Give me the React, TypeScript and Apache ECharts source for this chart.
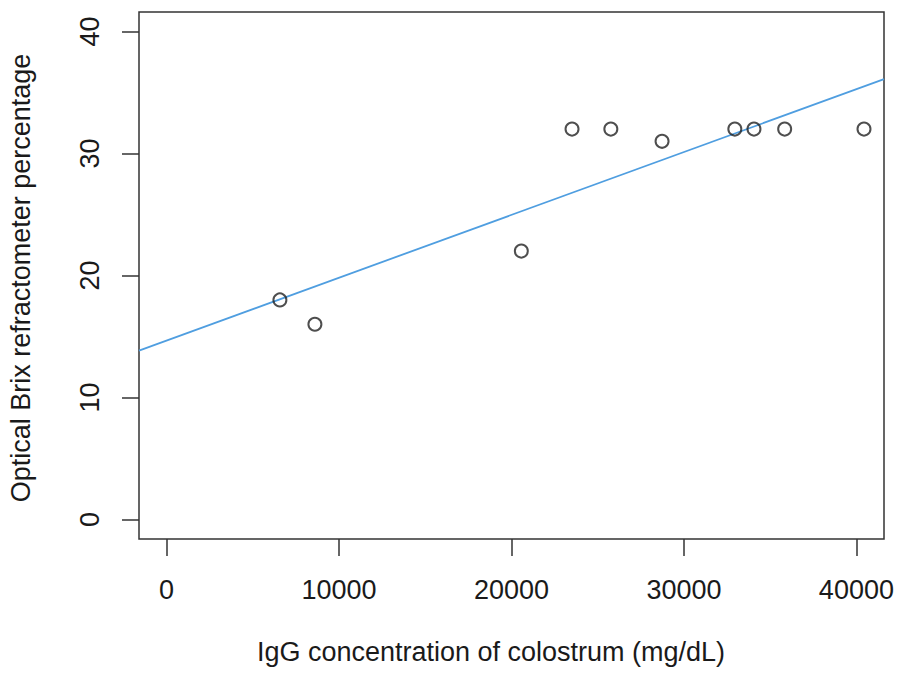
import React, { useEffect, useRef } from "react";
import * as echarts from "echarts";

const igg = [6570, 8600, 20570, 23510, 25760, 28730, 32950, 34060, 35840, 40440];
const brix = [18, 16, 22, 32, 32, 31, 32, 32, 32, 32];
const fitX = [-1600, 41600];
const fitY = [13.84, 36.1];
const xTicks = [0, 10000, 20000, 30000, 40000];
const yTicks = [0, 10, 20, 30, 40];
const xTitle = "IgG concentration of colostrum (mg/dL)";
const yTitle = "Optical Brix refractometer percentage";

const FONT = "'Liberation Sans', Arial, Helvetica, sans-serif";
const INK = "#1a1a1a";
const AXIS = "#333333";

export default function App() {
  const ref = useRef<HTMLDivElement>(null);
  useEffect(() => {
    if (!ref.current) return;
    const chart = echarts.init(ref.current, null, { renderer: "svg" });
    chart.setOption({
      animation: false,
      backgroundColor: "#ffffff",
      grid: {
        left: 139,
        right: 13,
        top: 12,
        bottom: 134,
        show: true,
        borderColor: AXIS,
        borderWidth: 1.5,
        backgroundColor: "transparent",
      },
      xAxis: {
        type: "value",
        min: -1600,
        max: 41600,
        axisLine: { show: false, onZero: false },
        splitLine: { show: false },
        axisTick: {
          show: true,
          customValues: xTicks,
          length: 17,
          lineStyle: { color: AXIS, width: 1.5 },
        },
        axisLabel: {
          customValues: xTicks,
          formatter: (v: number) => String(v),
          fontFamily: FONT,
          fontSize: 27,
          color: INK,
          margin: 37,
        },
      },
      yAxis: {
        type: "value",
        min: -1.6,
        max: 41.6,
        axisLine: { show: false, onZero: false },
        splitLine: { show: false },
        axisTick: {
          show: true,
          customValues: yTicks,
          length: 17,
          lineStyle: { color: AXIS, width: 1.5 },
        },
        axisLabel: {
          customValues: yTicks,
          formatter: (v: number) => String(v),
          rotate: 90,
          fontFamily: FONT,
          fontSize: 27,
          color: INK,
          margin: 36,
        },
      },
      graphic: [
        {
          type: "text",
          x: 491,
          y: 652,
          style: {
            text: xTitle,
            font: `27px ${FONT}`,
            fill: INK,
            textAlign: "center",
            textVerticalAlign: "middle",
          },
        },
        {
          type: "text",
          x: 21,
          y: 278,
          rotation: Math.PI / 2,
          style: {
            text: yTitle,
            font: `27px ${FONT}`,
            fill: INK,
            textAlign: "center",
            textVerticalAlign: "middle",
          },
        },
      ],
      series: [
        {
          type: "line",
          data: fitX.map((x, i) => [x, fitY[i]]),
          symbol: "none",
          lineStyle: { color: "#4f9ee0", width: 1.8 },
          z: 2,
        },
        {
          type: "scatter",
          data: igg.map((x, i) => [x, brix[i]]),
          symbol: "circle",
          symbolSize: 13,
          itemStyle: {
            color: "rgba(0,0,0,0)",
            borderColor: "#222222",
            borderWidth: 2,
          },
          z: 3,
        },
      ],
    });
    return () => chart.dispose();
  }, []);
  return (
    <div
      ref={ref}
      style={{ position: "fixed", left: 0, top: 0, width: 897, height: 673 }}
    />
  );
}
